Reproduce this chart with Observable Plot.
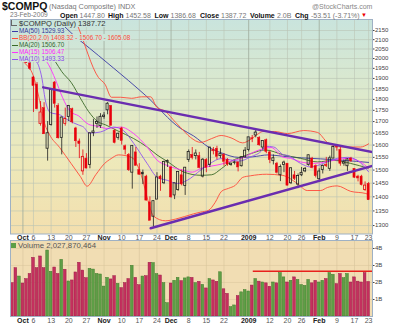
<!DOCTYPE html>
<html><head><meta charset="utf-8">
<script src="https://cdn.jsdelivr.net/npm/d3@7"></script>
<script src="https://cdn.jsdelivr.net/npm/@observablehq/plot@0.6"></script>
<style>
html,body{margin:0;padding:0;background:#fff;}
#wrap{position:relative;width:400px;height:327px;overflow:hidden;font-family:"Liberation Sans",Arial,Helvetica,sans-serif;}
.t{position:absolute;white-space:nowrap;line-height:1;}
.b{font-weight:bold;color:#111;font-size:7px;top:11.6px;}
.n{color:#777;font-size:7px;top:11.6px;}
#bgPrice{position:absolute;left:10px;top:19px;width:362px;height:214.5px;background:linear-gradient(to bottom,#c9e4dd 0%,#dde9cc 35%,#ede9ba 65%,#f3dfae 100%);}
#bgVol{position:absolute;left:10px;top:240px;width:362px;height:76px;background:#f1ddb3;}
.svg{position:absolute;left:0;}
.lg{position:absolute;left:11px;height:7.2px;line-height:7.2px;font-size:6.3px;white-space:nowrap;padding-right:1px;}
.dash{display:inline-block;width:6px;height:1px;vertical-align:middle;margin:0 1px 0 1px;}
</style></head><body><div id="wrap">
<div id="bgPrice"></div><div id="bgVol"></div>
<div id="p1" class="svg" style="top:0px"></div>
<div id="p2" class="svg" style="top:238px"></div>
</div>
<script>
// ---------- DATA ----------
const firstIndex = -6;            // trading-day index of the first bar (26-Sep-2008); 6-Oct-2008 = 0
const firstPrevClose = 2186.57;
const open = [2160,2140,2010,2075,2055,1975, 1905,1870,1690,1760,1585, 1685,1880,1770,1630,1690, 1720,1755,1670,1615,1495, 1545,1520,1650,1690,1680,
  1720,1750,1770,1660,1630, 1670,1595,1560,1490,1570, 1500,1490,1475,1380,1330, 1390,1475,1450,1530,
  1510,1405,1425,1480,1440, 1540,1560,1555,1555,1475, 1540,1520,1575,1585,1555, 1560,1540,1520,1528, 1530,1515,1550,
  1580, 1625,1640,1630,1590,1620, 1570,1535,1525,1480,1520, 1525,1450,1480,1445, 1480,1495,1520,1545,1515,
  1465,1500,1520,1505,1545, 1590,1580,1525,1515,1545, 1505,1475,1475,1425, 1447.80];
const high = [2190,2150,2095,2082,2060,2010, 1910,1880,1790,1785,1700, 1845,1885,1780,1720,1760, 1772,1760,1675,1625,1580, 1565,1650,1710,1720,1735,
  1740,1785,1772,1665,1650, 1675,1600,1565,1597,1590, 1525,1500,1480,1400,1386, 1490,1480,1535,1540,
  1515,1450,1495,1500,1510, 1580,1590,1580,1570,1545, 1545,1590,1590,1595,1585, 1565,1545,1527,1535, 1532,1551,1590,
  1632, 1640,1665,1635,1617,1625, 1575,1560,1530,1520,1535, 1525,1510,1495,1485, 1510,1510,1560,1550,1520,
  1505,1520,1550,1555,1595, 1600,1590,1540,1545,1550, 1505,1480,1480,1455, 1452.58];
const low = [2150,1983,2000,2045,1975,1940, 1740,1752,1680,1645,1535, 1680,1760,1625,1560,1680, 1700,1690,1590,1545,1480, 1505,1505,1635,1670,1670,
  1710,1730,1680,1605,1620, 1600,1560,1495,1428,1515, 1480,1445,1385,1316,1295, 1390,1420,1445,1510,
  1395,1390,1420,1440,1405, 1530,1540,1540,1505,1470, 1490,1510,1560,1540,1545, 1515,1515,1515,1520, 1493,1512,1548,
  1572, 1610,1630,1595,1580,1565, 1525,1520,1485,1456,1490, 1440,1445,1460,1430, 1475,1490,1515,1505,1470,
  1460,1485,1510,1495,1545, 1575,1515,1515,1495,1530, 1468,1455,1440,1420, 1386.68];
const close = [2183.34,1983.73,2091.88,2069.40,1976.72,1947.39, 1862.96,1754.88,1740.33,1645.12,1649.51, 1844.25,1779.01,1628.33,1717.71,1711.29,
  1770.03,1696.68,1615.75,1603.91,1552.03, 1505.90,1649.47,1657.21,1698.52,1720.95, 1726.33,1780.12,1681.64,1608.70,1647.40,
  1616.74,1580.90,1499.21,1596.70,1516.85, 1482.05,1483.27,1386.42,1316.12,1384.35, 1472.02,1464.73,1532.10,1535.57,
  1398.07,1449.80,1492.38,1445.56,1509.31, 1571.74,1547.34,1565.59,1507.88,1540.72, 1508.34,1589.89,1579.31,1552.37,1564.32,
  1532.35,1521.54,1524.90,1530.24, 1510.32,1550.70,1577.03, 1632.21, 1628.03,1652.38,1599.06,1617.01,1571.59,
  1538.79,1546.46,1489.64,1511.84,1529.33, 1440.86,1507.07,1465.49,1477.29, 1489.46,1504.90,1558.34,1507.84,1476.42,
  1494.43,1516.30,1515.05,1546.24,1591.71, 1591.56,1524.73,1530.50,1541.71,1534.36, 1470.66,1467.97,1442.82,1441.23, 1387.72];
const volume = [1.96,2.84,2.35,1.94,2.2,2.5, 3.45,2.84,3.53,2.84,3.88, 2.63,2.88,2.5,3.33,2.75, 2.06,2.12,2.59,3.16,2.7, 2.25,2.8,2.76,2.5,2.47,
  1.76,2.27,2.18,2.37,1.92, 1.67,1.96,2.2,2.98,2.27, 1.84,2.35,2.37,3.16,3.14, 2.49,2.41,1.96,0.78,
  1.94,2.1,2.27,2.08,2.24, 2.3,2.27,1.96,2.04,1.86, 1.65,2.2,2.12,2.04,2.6, 1.6,1.33,0.55,0.65, 1.2,1.42,1.55,
  1.47, 1.82,2.2,2.05,2.0,1.95, 1.75,2.0,1.95,2.55,2.3, 2.0,2.1,2.3,2.15, 1.85,1.8,2.15,1.95,2.1,
  2.0,2.1,2.2,2.55,2.45, 1.9,2.5,2.25,2.5,2.0, 2.3,2.05,2.0,2.55, 2.03]; // billions

// overlays: [trading-day index, value]
const ma50 = [[2,2330],[8.5,2178],[18.4,2016],[26.9,1890],[31.8,1818],[41.7,1670],[45.4,1638],[49.6,1592],[53.3,1568],[58.1,1550],[62,1552],[66.6,1560],[70.9,1554],[76,1548],[81.4,1544],[88,1538],[95,1529.93]];
const bbUpper = [[10,2300],[12.5,2178],[18.4,1905],[20.3,1871],[22.1,1810],[24.7,1810],[27.8,1805],[30.6,1812],[33.2,1812],[34.9,1765],[37.4,1745],[40.3,1696],[41.7,1674],[44.5,1632],[47.4,1611],[50.5,1627],[53.2,1640],[56,1630],[59.3,1609],[61.2,1620],[63.8,1648],[65,1657],[68.3,1657],[72,1648],[76.6,1661],[80.5,1653],[83.3,1611],[85.1,1598],[87.9,1592],[92.7,1592],[95,1605.08]];
const bbLower = [[-6,2090],[-3,1990],[0,1910],[2,1775],[3,1700],[4.5,1645],[7.4,1590],[10.7,1525],[13.3,1475],[15.2,1439],[17.7,1483],[20.1,1525],[22,1545],[24.1,1560],[27.8,1550],[30.6,1478],[32.6,1380],[34,1332],[37.4,1316],[40.3,1322],[45.4,1340],[47.4,1346],[49.6,1352],[51.5,1380],[53.3,1420],[55.3,1431],[57.2,1442],[59.3,1472],[61.5,1478],[66,1484],[70.5,1480],[74.8,1449],[77.6,1423],[81.4,1423],[83.3,1434],[86.1,1440],[89.9,1420],[94.2,1412],[95,1408.32]];
const ma20 = [[-6,2215],[-3,2170],[0,2130],[3,2060],[6.2,1984],[8,1934],[10.7,1880],[13.5,1800],[15.6,1745],[18.2,1700],[20.5,1685],[23.7,1661],[28.4,1627],[32.2,1592],[35,1560],[37.9,1534],[42.5,1493],[47.4,1480],[50.5,1482],[53.3,1506],[56.2,1536],[59,1552],[61.8,1566],[65.7,1580],[70.9,1560],[75.7,1546],[80.5,1532],[85.1,1538],[89.9,1526],[95,1506.70]];
const ma15 = [[-3,2120],[0,2080],[2.4,2015],[4.3,1968],[6.2,1895],[8.2,1810],[10.4,1745],[12.8,1725],[15.6,1688],[18,1680],[20.9,1670],[24.7,1676],[28.4,1648],[32.2,1592],[35.1,1538],[37.9,1518],[42.5,1499],[45,1492],[47.4,1506],[53.2,1523],[56.7,1538],[58.1,1542],[62.9,1574],[64.8,1584],[67.3,1590],[70.9,1550],[72.9,1546],[75.7,1532],[79.4,1526],[85.1,1538],[89,1546],[92.7,1532],[95,1506.47]];
const ma10 = [[-3,2080],[-1,2040],[0,2000],[1.4,1966],[2.4,1900],[3.3,1800],[4.8,1740],[7.6,1729],[9.8,1706],[12.8,1685],[14.2,1676],[15.8,1650],[19,1655],[22.7,1676],[25.5,1661],[28.4,1607],[32.2,1526],[35.1,1472],[37.9,1461],[40.8,1449],[43.6,1461],[47.4,1500],[50,1525],[53.1,1545],[56.7,1538],[58.1,1535],[61.6,1552],[64.9,1580],[65.7,1595],[68.1,1592],[70.9,1560],[72,1558],[75.7,1526],[78.6,1512],[82.2,1526],[86.1,1546],[89,1550],[91.8,1538],[95,1493.33]];
const upperTrend = [[2.75,1857],[96.1,1571]];
const lowerTrend = [[33.2,1291],[96.1,1516]];
const volumeLine = {from: 62.3, to: 96.1, value: 2.66};

const tickIndex = [-3,0,5,10,15,20,25,30,35,39,44,49,54,61,67,72,76,81,86,91,95];
const tickLabel = ["Oct","6","13","20","27","Nov","10","17","24","Dec","8","15","22","2009","12","20","26","Feb","9","17","23"];
const tickMajor = [1,0,0,0,0,1,0,0,0,1,0,0,0,1,0,0,0,1,0,0,0];
const priceTicks = [1300,1350,1400,1450,1500,1550,1600,1650,1700,1750,1800,1850,1900,1950,2000,2050,2100,2150];
const volumeTicks = [1,2,3,4];

// ---------- BUILD ----------
const bars = close.map((c, k) => ({
  i: k + firstIndex, o: open[k], h: high[k], l: low[k], c, v: volume[k],
  up: c >= (k ? close[k - 1] : firstPrevClose), hollow: c > open[k]
}));
const ticks = tickIndex.map((i, k) => ({i, label: tickLabel[k], major: !!tickMajor[k]}));
const xDomain = [-6.52, 96.1];
const RED = "#e8000c", BLK = "#1e1e1e", hw = 0.3;
const font = "Liberation Sans, Arial, sans-serif";

const candle = [];
for (const [flt, col] of [[d => d.up, BLK], [d => !d.up, RED]]) {
  candle.push(
    Plot.ruleX(bars, {filter: flt, x: "i", y1: "h", y2: d => Math.max(d.o, d.c), stroke: col, strokeWidth: 0.8}),
    Plot.ruleX(bars, {filter: flt, x: "i", y1: d => Math.min(d.o, d.c), y2: "l", stroke: col, strokeWidth: 0.8}),
    Plot.rect(bars, {filter: d => flt(d) && !d.hollow, x1: d => d.i - hw, x2: d => d.i + hw, y1: "o", y2: "c", fill: col, stroke: col, strokeWidth: 0.5}),
    Plot.rect(bars, {filter: d => flt(d) && d.hollow, x1: d => d.i - hw, x2: d => d.i + hw, y1: "o", y2: "c", fill: "none", stroke: col, strokeWidth: 0.8})
  );
}
const ln = (data, stroke, w = 0.9) => Plot.line(data, {x: d => d[0], y: d => d[1], stroke, strokeWidth: w, curve: "monotone-x", clip: true});

const dateLabels = [
  Plot.text(ticks.filter(d => d.major), {x: "i", text: "label", frameAnchor: "bottom", lineAnchor: "top", dy: 1.5, fontWeight: "bold", fill: "#222", fontSize: 7}),
  Plot.text(ticks.filter(d => !d.major), {x: "i", text: "label", frameAnchor: "bottom", lineAnchor: "top", dy: 1.5, fill: "#555", fontSize: 7})
];

const priceChart = Plot.plot({
  width: 400, height: 245, marginTop: 19, marginBottom: 11.5, marginLeft: 10, marginRight: 28,
  style: {background: "transparent", fontFamily: font, fontSize: "6px", color: "#444"},
  x: {domain: xDomain, axis: null},
  y: {type: "log", domain: [1272, 2212], axis: "right", ticks: priceTicks, tickFormat: d => `${d}`, tickSize: 1.5, tickPadding: 1, label: null},
  marks: [
    Plot.ruleY(priceTicks, {stroke: "#b9c3b4", strokeWidth: 0.6}),
    Plot.ruleX(ticks.filter(d => !d.major), {x: "i", stroke: "#bcc5b5", strokeWidth: 0.6}),
    Plot.ruleX(ticks.filter(d => d.major), {x: "i", stroke: "#9eab9c", strokeWidth: 0.8}),
    ln(ma50, "#3a3aa6"),
    ln(bbUpper, "#ff4a3a"),
    ln(bbLower, "#ff4a3a"),
    ln(ma20, "#3b6a28"),
    ln(ma15, "#ff30ff"),
    ln(ma10, "#9055ee"),
    ...candle,
    ln(upperTrend, "#6a2db0", 2.4),
    ln(lowerTrend, "#6a2db0", 2.4),
    ...dateLabels,
    Plot.frame({stroke: "#9fb1c4", strokeWidth: 1})
  ]
});
document.getElementById("p1").appendChild(priceChart);

const volChart = Plot.plot({
  width: 400, height: 89, marginTop: 2, marginBottom: 11, marginLeft: 10, marginRight: 28,
  style: {background: "transparent", fontFamily: font, fontSize: "6px", color: "#444"},
  x: {domain: xDomain, axis: null},
  y: {domain: [0, 4.47], axis: "right", ticks: volumeTicks, tickFormat: d => d + "B", tickSize: 1.5, tickPadding: 1, label: null},
  marks: [
    Plot.ruleY(volumeTicks, {stroke: "#ddc9a0", strokeWidth: 0.6}),
    Plot.ruleX(ticks, {x: "i", stroke: "#d6c49c", strokeWidth: 0.6}),
    Plot.rect(bars, {filter: d => d.up, x1: d => d.i - 0.38, x2: d => d.i + 0.38, y1: 0, y2: "v", fill: "#5e9e46", stroke: "#3f7d2b", strokeWidth: 0.5}),
    Plot.rect(bars, {filter: d => !d.up, x1: d => d.i - 0.38, x2: d => d.i + 0.38, y1: 0, y2: "v", fill: "#c4305e", stroke: "#9c1c46", strokeWidth: 0.5}),
    Plot.ruleY([volumeLine], {x1: "from", x2: "to", y: "value", stroke: "#e8201c", strokeWidth: 1.6}),
    ...dateLabels,
    Plot.frame({stroke: "#9fb1c4", strokeWidth: 1})
  ]
});
document.getElementById("p2").appendChild(volChart);

// ---------- TEXT ----------
const wrap = document.getElementById("wrap");
function add(html, style, cls = "t") {
  const d = document.createElement("div");
  d.className = cls; d.innerHTML = html; d.setAttribute("style", style); wrap.appendChild(d); return d;
}
add("$COMPQ", "left:2px;top:1px;font-size:10.5px;font-weight:bold;color:#111;");
add("(Nasdaq Composite) INDX", "left:49px;top:3px;font-size:7.3px;color:#777;");
add("@StockCharts.com", "left:312px;top:2.5px;font-size:7px;color:#888;");
add("23-Feb-2009", "left:10px;top:12px;font-size:6.6px;color:#777;");
const hdr = [["Open",60,"b"],["1447.80",79.5,"n"],["High",108,"b"],["1452.58",125.5,"n"],["Low",154.5,"b"],["1386.68",170.5,"n"],
  ["Close",200,"b"],["1387.72",221,"n"],["Volume",250,"b"],["2.0B",277,"n"],["Chg",295,"b"],["-53.51 (-3.71%)",311,"n"]];
for (const [s, x, c] of hdr) add(s, `left:${x}px;`, "t " + c);
add("▼", "left:361px;top:12.3px;font-size:6px;color:#e00;");

const legend = [
  ["$COMPQ (Daily) 1387.72", "#333", "#c9e4dd", null],
  ["MA(50) 1529.93", "#333399", "#cbe5da", "#3a3aa6"],
  ["BB(20,2.0) 1408.32 - 1506.70 - 1605.08", "#ff4a3a", "#cde5d8", "#ff4a3a"],
  ["MA(20) 1506.70", "#336633", "#d0e6d6", "#3b6a28"],
  ["MA(15) 1506.47", "#ff22ff", "#d2e6d3", "#ff30ff"],
  ["MA(10) 1493.33", "#8844ee", "#d4e7d1", "#9055ee"]
];
const tops = [19.8, 27.0, 34.1, 41.1, 48.2, 55.3];
legend.forEach(([txt, col, bg, dash], k) => {
  const pre = dash ? `<span class="dash" style="background:${dash}"></span>` :
    `<span style="display:inline-block;width:5px;height:5px;border:1px solid #666;border-top:none;border-right:none;margin:0 2px 0 0;vertical-align:-0.5px;"></span>`;
  add(pre + txt, `top:${tops[k]}px;color:${col};background:${bg};` + (k === 0 ? "font-size:7.6px;" : ""), "lg");
});
add(`<span style="display:inline-block;width:5px;height:5px;background:#5e9e46;margin-right:2px;vertical-align:-0.5px;"></span>Volume 2,027,870,464`,
  "left:11px;top:241.5px;font-size:7.8px;color:#555;");
</script></body></html>
